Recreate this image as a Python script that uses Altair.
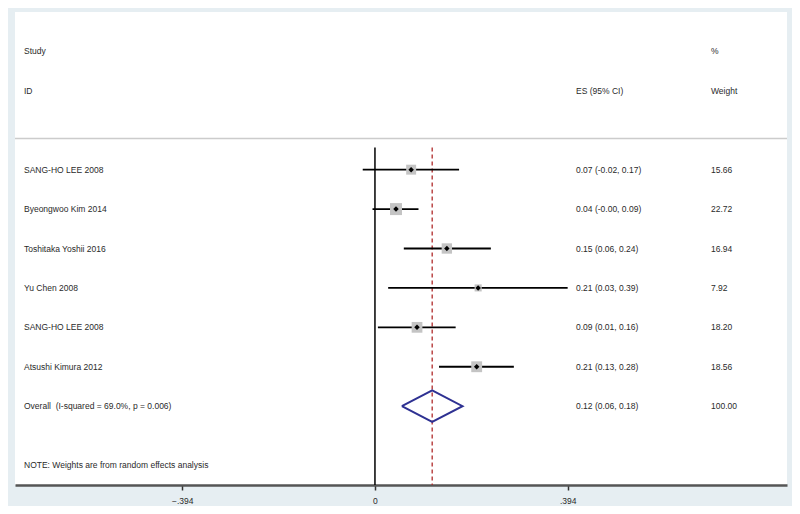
import altair as alt
import pandas as pd

# ---- data ----
studies = ["SANG-HO LEE 2008", "Byeongwoo Kim 2014", "Toshitaka Yoshii 2016",
           "Yu Chen 2008", "SANG-HO LEE 2008", "Atsushi Kimura 2012"]
es = [0.074, 0.043, 0.147, 0.211, 0.086, 0.208]
ci_lo = [-0.025, -0.005, 0.059, 0.027, 0.006, 0.131]
ci_hi = [0.172, 0.089, 0.237, 0.394, 0.165, 0.284]
es_labels = ["0.07 (-0.02, 0.17)", "0.04 (-0.00, 0.09)", "0.15 (0.06, 0.24)",
             "0.21 (0.03, 0.39)", "0.09 (0.01, 0.16)", "0.21 (0.13, 0.28)"]
weights = [15.66, 22.72, 16.94, 7.92, 18.20, 18.56]
weight_labels = ["15.66", "22.72", "16.94", "7.92", "18.20", "18.56"]

overall_label = "Overall\u00a0 (I-squared = 69.0%, p = 0.006)"
overall_es = 0.117
overall_lo = 0.055
overall_hi = 0.179
overall_es_label = "0.12 (0.06, 0.18)"
overall_weight_label = "100.00"
note = "NOTE: Weights are from random effects analysis"
tick_values = [-0.394, 0, 0.394]

# ---- tables ----
rows = list(range(len(studies)))
df = pd.DataFrame({"row": rows, "study": studies, "es": es, "lo": ci_lo, "hi": ci_hi,
                   "eslab": es_labels, "w": weights, "wlab": weight_labels})
overall_row = len(studies)
note_row = overall_row + 1.5
head1, head2 = -3, -2
sep_row = -0.79
line_top = -0.56
x_min, x_max = -0.736, 0.8425
y_min, y_max = -4, 8

xs = alt.Scale(domain=[x_min, x_max], nice=False, zero=False)
ys = alt.Scale(domain=[y_min, y_max], reverse=True, nice=False, zero=False)

FONT = "Liberation Sans"
FS = 8.5
TC = "#2a2a2a"

X = lambda f: alt.X(f, type="quantitative", scale=xs,
                    axis=alt.Axis(values=tick_values, title=None, grid=False,
                                  domainColor="#555555", domainWidth=2.5,
                                  tickColor="#333333", tickSize=5, tickWidth=1.5,
                                  labelFontSize=FS, labelColor=TC, labelFont=FONT,
                                  labelPadding=6,
                                  labelExpr="datum.value == 0 ? '0' : replace(format(datum.value, '.3f'), '0.', '.')"))
Y = lambda f: alt.Y(f, type="quantitative", scale=ys, axis=None)

base = alt.Chart(df)

ci = base.mark_rule(color="black", strokeWidth=1.8).encode(
    x=X("lo"), x2="hi", y=Y("row"))
squares = base.mark_square(color="#c4c4c4", opacity=1).encode(
    x=X("es"), y=Y("row"),
    size=alt.Size("w:Q", scale=alt.Scale(domain=[0, 22.72], range=[0, 144]), legend=None))
dots = base.mark_point(shape="diamond", filled=True, color="black", size=30, opacity=1).encode(
    x=X("es"), y=Y("row"))

vlines = pd.DataFrame({"x": [0.0], "y1": [line_top], "y2": [y_max]})
zero_line = alt.Chart(vlines).mark_rule(color="black", strokeWidth=1.5).encode(
    x=X("x"), y=Y("y1"), y2="y2")
ovl = pd.DataFrame({"x": [overall_es], "y1": [line_top], "y2": [y_max]})
red_line = alt.Chart(ovl).mark_rule(color="#b02a2a", strokeWidth=1.3, strokeDash=[4, 3]).encode(
    x=X("x"), y=Y("y1"), y2="y2")

dia = pd.DataFrame({
    "x": [overall_lo, overall_es, overall_hi, overall_es, overall_lo],
    "y": [overall_row, overall_row - 0.4, overall_row, overall_row + 0.4, overall_row],
    "o": [0, 1, 2, 3, 4]})
diamond = alt.Chart(dia).mark_line(color="#2e3192", strokeWidth=2).encode(
    x=X("x"), y=Y("y"), order="o:Q")

sep = pd.DataFrame({"x1": [x_min], "x2": [x_max], "y": [sep_row]})
separator = alt.Chart(sep).mark_rule(color="#cccccc", strokeWidth=1.5).encode(
    x=X("x1"), x2="x2", y=Y("y"))

txt = dict(font=FONT, fontSize=FS, color=TC, align="left", baseline="middle")
col_study, col_es, col_w = 9, 561, 696

study_txt = base.mark_text(**txt).encode(x=alt.value(col_study), y=Y("row"), text="study")
es_txt = base.mark_text(**txt).encode(x=alt.value(col_es), y=Y("row"), text="eslab")
w_txt = base.mark_text(**txt).encode(x=alt.value(col_w), y=Y("row"), text="wlab")

extra = pd.DataFrame({
    "col": ["s", "s", "w", "e", "w", "s", "e", "w", "s"],
    "row": [head1, head2, head1, head2, head2, overall_row, overall_row, overall_row, note_row],
    "t": ["Study", "ID", "%", "ES (95% CI)", "Weight", overall_label,
          overall_es_label, overall_weight_label, note]})
extra_s = alt.Chart(extra).transform_filter("datum.col == 's'").mark_text(**txt).encode(
    x=alt.value(col_study), y=Y("row"), text="t")
extra_e = alt.Chart(extra).transform_filter("datum.col == 'e'").mark_text(**txt).encode(
    x=alt.value(col_es), y=Y("row"), text="t")
extra_w = alt.Chart(extra).transform_filter("datum.col == 'w'").mark_text(**txt).encode(
    x=alt.value(col_w), y=Y("row"), text="t")

chart = alt.layer(
    separator, zero_line, red_line, ci, squares, dots, diamond,
    study_txt, es_txt, w_txt, extra_s, extra_e, extra_w
).properties(
    width=772, height=473,
    autosize=alt.AutoSizeParams(type="none"),
    padding={"left": 7, "top": 4, "right": 5, "bottom": 21},
    background="#e6eef2",
).configure_view(stroke=None, fill="white")

chart.save("out.html", embed_options={"renderer": "svg", "actions": False})
